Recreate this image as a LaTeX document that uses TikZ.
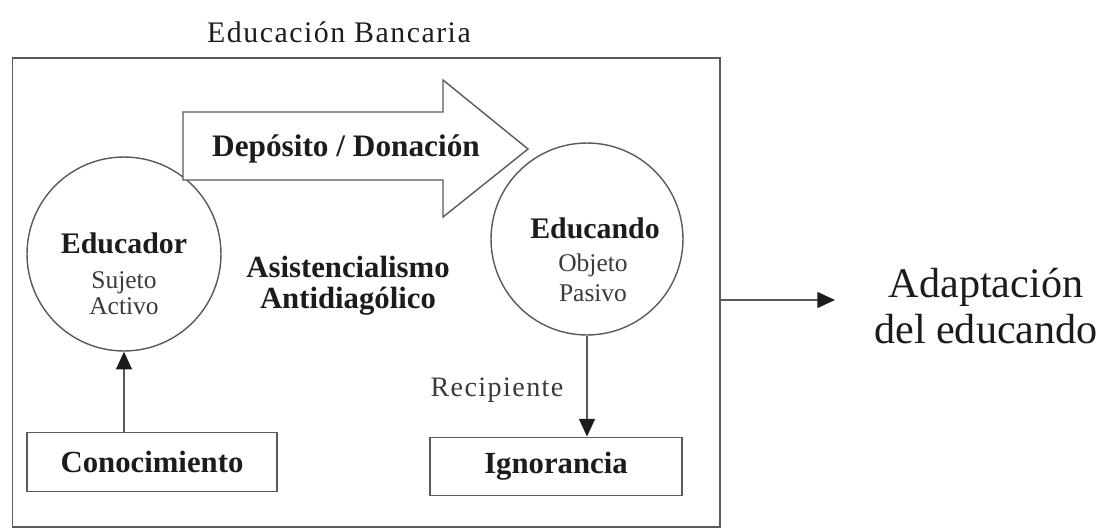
\documentclass[tikz,border=0pt]{standalone}
\usepackage{fontspec}
\setmainfont{Liberation Serif}
\usetikzlibrary{arrows.meta,positioning,calc}
\definecolor{tinta}{HTML}{1C1C1C}
\definecolor{linea}{HTML}{5A5A5A}
\definecolor{gris}{HTML}{3A3A3A}
\tikzset{circ/.style={circle,draw=linea,line width=.8pt,fill=white,inner sep=0pt},caja/.style={draw=linea,fill=white,line width=.8pt,minimum width=5cm,minimum height=1.17cm,inner sep=0pt},negra/.style={text=tinta,font=\fontsize{17.5}{17.6}\selectfont\bfseries,align=center},fina/.style={text=gris,font=\fontsize{14.5}{16}\selectfont,align=center},flecha/.style={draw=linea,line width=.8pt,-{Triangle[length=10pt,width=9pt,color=tinta]}}}

\begin{document}
\begin{tikzpicture}[x=0.02cm,y=-0.02cm]
\useasboundingbox (0,0) rectangle (1103,531);
\node[text=tinta,font=\fontsize{17}{18}\selectfont\addfontfeature{LetterSpace=5}] (titulo) at (339,32) {Educación Bancaria};
\node[draw=linea,line width=.8pt,minimum width=14.15cm,minimum height=9.38cm,inner sep=0pt] (banc) at (366.25,292.5) {};
\foreach \n/\x/\y/\d in {edr/124/254/3.88cm,edo/587/239/3.84cm}{\node[circ,minimum size=\d] (\n) at (\x,\y) {};}
% flecha grande
\draw[draw=linea,line width=.8pt,fill=white] (183,112) -- (443,112) -- (443,80) -- (528,149) -- (443,217) -- (443,180) -- (183,180) -- cycle;
\node[negra,font=\fontsize{17.8}{18}\selectfont\bfseries] (dep) at (346,149) {Depósito / Donación};
\node[negra,font=\fontsize{17}{18}\selectfont\bfseries] (edrt) at (124,243) {Educador};
\node[fina,font=\fontsize{14.5}{15}\selectfont] (edrs) at (124,293) {Sujeto\\Activo};
\node[negra,font=\fontsize{17}{18}\selectfont\bfseries] (edot) at (595,228) {Educando};
\node[fina,font=\fontsize{14.5}{17}\selectfont] (edos) at (593,278) {Objeto\\Pasivo};
\node[negra] (asis) at (348,286) {Asistencialismo\\Antidiagólico};
\node[caja,negra] (cono) at (152,462) {Conocimiento};
\node[caja,negra,minimum width=5.04cm] (igno) at (556,466.5) {Ignorancia};
\node[fina,font=\fontsize{16}{18}\selectfont\addfontfeature{LetterSpace=5}] (reci) at (497,390) {Recipiente};
\draw[flecha] (cono.north -| edr.south) -- (edr.south);
\draw[flecha] (edo.south) -- (edo.south |- igno.north);
% salida
\coordinate (sal) at (835,300);
\draw[flecha] (banc.east |- sal) -- (sal);
\node[text=tinta,align=center,font=\fontsize{24}{26}\selectfont] (adap) at (986,306) {Adaptación\\del educando};
\end{tikzpicture}
\end{document}
